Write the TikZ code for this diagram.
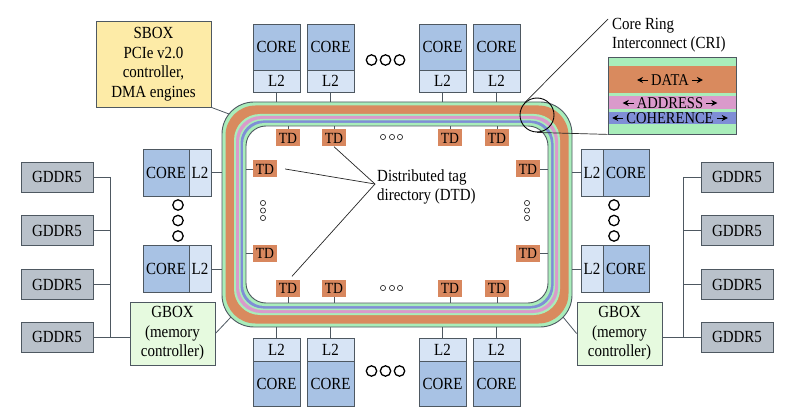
\documentclass[tikz,border=0pt]{standalone}
\usepackage{fontspec}
\setmainfont{Liberation Serif}[FakeStretch=0.88]
\usetikzlibrary{arrows.meta,calc}
\definecolor{bordc}{HTML}{4E5861}
\definecolor{coreblue}{HTML}{A8C2E4}
\definecolor{ltwo}{HTML}{D7E4F5}
\definecolor{tdor}{HTML}{D8875E}
\definecolor{rorange}{HTML}{D98A5E}
\definecolor{rgreen}{HTML}{A9EDBA}
\definecolor{rpink}{HTML}{DA9ACB}
\definecolor{rblue}{HTML}{7F8ED6}
\definecolor{gddr}{HTML}{B9C1CA}
\definecolor{sboxc}{HTML}{FDEBA7}
\definecolor{gboxc}{HTML}{E6FADF}
\begin{document}
\begin{tikzpicture}[x=1pt,y=-1pt,
  txt/.style={font=\fontsize{17}{19.5}\selectfont},
  box/.style={draw=bordc,line width=0.8pt,inner sep=0pt,txt,align=center},
  corebox/.style={box,fill=coreblue},
  ltwobox/.style={box,fill=ltwo},
  tdbox/.style={fill=tdor,inner sep=0pt,minimum width=24pt,minimum height=17pt,font=\fontsize{15.5}{16}\selectfont},
  gdbox/.style={box,fill=gddr,minimum width=72pt,minimum height=30pt},
  conn/.style={draw=bordc,line width=0.8pt},
  bigdot/.style={draw=black,line width=1.3pt},
  smalldot/.style={draw=black!80,line width=0.7pt},
  thin/.style={draw=black!85,line width=0.7pt},
  crilab/.style={font=\fontsize{16.5}{16}\selectfont,inner sep=1pt}]
\useasboundingbox[fill=white] (0,0) rectangle (795,414);

% ---- ring ----
\foreach \d/\r/\c in {0/32/rgreen,3.5/30/rorange,12/26/rgreen,14/25/rpink,17/23.5/rgreen,18.5/22.75/rblue,21/21.5/rgreen}{
  \fill[\c,rounded corners=\r pt] (222+\d,102+\d) rectangle (572-\d,327-\d);
}
\draw[bordc,line width=0.9pt,rounded corners=32pt] (222,102) rectangle (572,327);
\draw[bordc,line width=0.9pt,fill=white,rounded corners=20pt] (246,126) rectangle (548,303);
\node[inner sep=0pt,minimum width=350pt,minimum height=225pt] (ring) at (397,214.5) {};
\node[inner sep=0pt,minimum width=302pt,minimum height=177pt] (ringin) at (397,214.5) {};

% ---- top and bottom cores ----
\foreach \i/\x in {1/276.5,2/330.5,3/442.5,4/496.5}{
  \node[corebox,minimum width=47pt,minimum height=46pt] (tc\i) at (\x,47) {CORE};
  \node[ltwobox,minimum width=47pt,minimum height=22pt] (tl\i) at (\x,81) {L2};
  \draw[conn] (tl\i.south) -- (tl\i.south |- ring.north);
  \node[ltwobox,minimum width=47pt,minimum height=23pt] (bl\i) at (\x,349.5) {L2};
  \node[corebox,minimum width=47pt,minimum height=45pt] (bc\i) at (\x,383.5) {CORE};
  \draw[conn] (bl\i.north) -- (bl\i.north |- ring.south);
}
% ---- side cores ----
\foreach \i/\y in {1/172.5,2/269}{
  \node[corebox,minimum width=46pt,minimum height=47pt] (lc\i) at (166,\y) {CORE};
  \node[ltwobox,minimum width=22pt,minimum height=47pt] (ll\i) at (200,\y) {L2};
  \draw[conn] (ll\i.east) -- (ll\i.east -| ring.west);
  \node[ltwobox,minimum width=22pt,minimum height=47pt] (rl\i) at (592,\y) {L2};
  \node[corebox,minimum width=46pt,minimum height=47pt] (rc\i) at (626,\y) {CORE};
  \draw[conn] (rl\i.west) -- (rl\i.west -| ring.east);
}

% ---- tag directories ----
\foreach \i/\x in {1/288,2/334,3/450,4/497}{
  \node[tdbox] (tdt\i) at (\x,138) {TD};
  \draw[conn] (tdt\i.north) -- (tdt\i.north |- ringin.north);
  \node[tdbox] (tdb\i) at (\x,288) {TD};
  \draw[conn] (tdb\i.south) -- (tdb\i.south |- ringin.south);
}
\foreach \i/\y in {1/169,2/253}{
  \node[tdbox] (tdl\i) at (265,\y) {TD};
  \draw[conn] (tdl\i.west) -- (tdl\i.west -| ringin.west);
  \node[tdbox] (tdr\i) at (528,\y) {TD};
  \draw[conn] (tdr\i.east) -- (tdr\i.east -| ringin.east);
}

% ---- dots ----
\foreach \x in {383,392,400}{
  \draw[smalldot] (\x,137) circle (2.6pt);
  \draw[smalldot] (\x,288) circle (2.6pt);
}
\foreach \y in {203,210.5,218}{
  \draw[smalldot] (263,\y) circle (2.6pt);
  \draw[smalldot] (527,\y) circle (2.6pt);
}
\foreach \x in {371.5,385.5,399.5}{
  \draw[bigdot] (\x,60) circle (5.2pt);
  \draw[bigdot] (\x,371) circle (5.2pt);
}
\foreach \y in {205,220.5,236}{
  \draw[bigdot] (178,\y) circle (5.2pt);
  \draw[bigdot] (614,\y) circle (5.2pt);
}

% ---- DTD label ----
\coordinate (dtd) at (375,184);
\node[txt,anchor=west,align=left,inner sep=0pt] (dtdl) at (377,187) {Distributed tag\\directory (DTD)};
\draw[thin] (tdt2.south) -- (dtd);
\draw[thin] ([xshift=8pt]tdl1.east) -- (dtd);
\draw[thin] ([xshift=4pt,yshift=3pt]tdb1.north) -- (dtd);

% ---- SBOX ----
\node[box,fill=sboxc,minimum width=115pt,minimum height=86pt] (sbox) at (153.5,64) {SBOX\\PCIe v2.0\\controller,\\DMA engines};
\coordinate (rsb) at (229,114);
\draw[conn] (sbox.south east) -- (rsb);

% ---- GBOXes ----
\node[box,fill=gboxc,minimum width=85pt,minimum height=63pt] (gbl) at (172.5,333.5) {GBOX\\(memory\\controller)};
\node[box,fill=gboxc,minimum width=85pt,minimum height=63pt] (gbr) at (619.5,333.5) {GBOX\\(memory\\controller)};
\coordinate (rgl) at (231,317);
\coordinate (rgr) at (563,317);
\draw[conn] (gbl.east) -- (rgl);
\draw[conn] (gbr.west) -- (rgr);

% ---- GDDR5 ----
\foreach \i/\y in {1/177,2/230.5,3/284.5,4/337}{
  \node[gdbox] (gl\i) at (57,\y) {GDDR5};
  \node[gdbox] (gr\i) at (737,\y) {GDDR5};
}
\coordinate (busl) at (110,177);
\coordinate (busr) at (683,177);
\draw[conn] (busl) -- (busl |- gl4.east);
\draw[conn] (busr) -- (busr |- gr4.west);
\foreach \i in {1,2,3,4}{
  \draw[conn] (gl\i.east) -- (gl\i.east -| busl);
  \draw[conn] (gr\i.west) -- (gr\i.west -| busr);
}
\draw[conn] (busl |- gl4.east) -- (gl4.east -| gbl.west);
\draw[conn] (busr |- gr4.west) -- (gr4.west -| gbr.east);

% ---- CRI ----
\node[txt,anchor=north west,align=left,inner sep=0pt] (cril) at (612,18) {Core Ring\\Interconnect (CRI)};
\fill[rgreen] (608,57) rectangle (736,134);
\fill[rorange] (608,66) rectangle (736,93);
\fill[rpink] (608,96) rectangle (736,109);
\fill[rblue] (608,112) rectangle (736,124);
\node[draw=bordc,line width=0.8pt,inner sep=0pt,minimum width=128pt,minimum height=77pt] (crib) at (672,95.5) {};
\node[crilab] (data) at (670,80) {DATA};
\node[crilab] (addr) at (670,103) {ADDRESS};
\node[crilab] (coh) at (670,118) {COHERENCE};
\foreach \n in {data,addr,coh}{
  \draw[-{Stealth[length=6pt,width=6pt]},line width=0.8pt] ([xshift=-2pt]\n.west) -- ++(-11,0);
  \draw[-{Stealth[length=6pt,width=6pt]},line width=0.8pt] ([xshift=2pt]\n.east) -- ++(11,0);
}
\node[draw=black,line width=0.9pt,circle,minimum size=34pt,inner sep=0pt] (cric) at (537,115) {};
\coordinate (crip) at (608,19);
\draw[thin] (crip) -- (cric.135);
\draw[thin] (cric.south) -- (crib.south west);
\end{tikzpicture}
\end{document}
